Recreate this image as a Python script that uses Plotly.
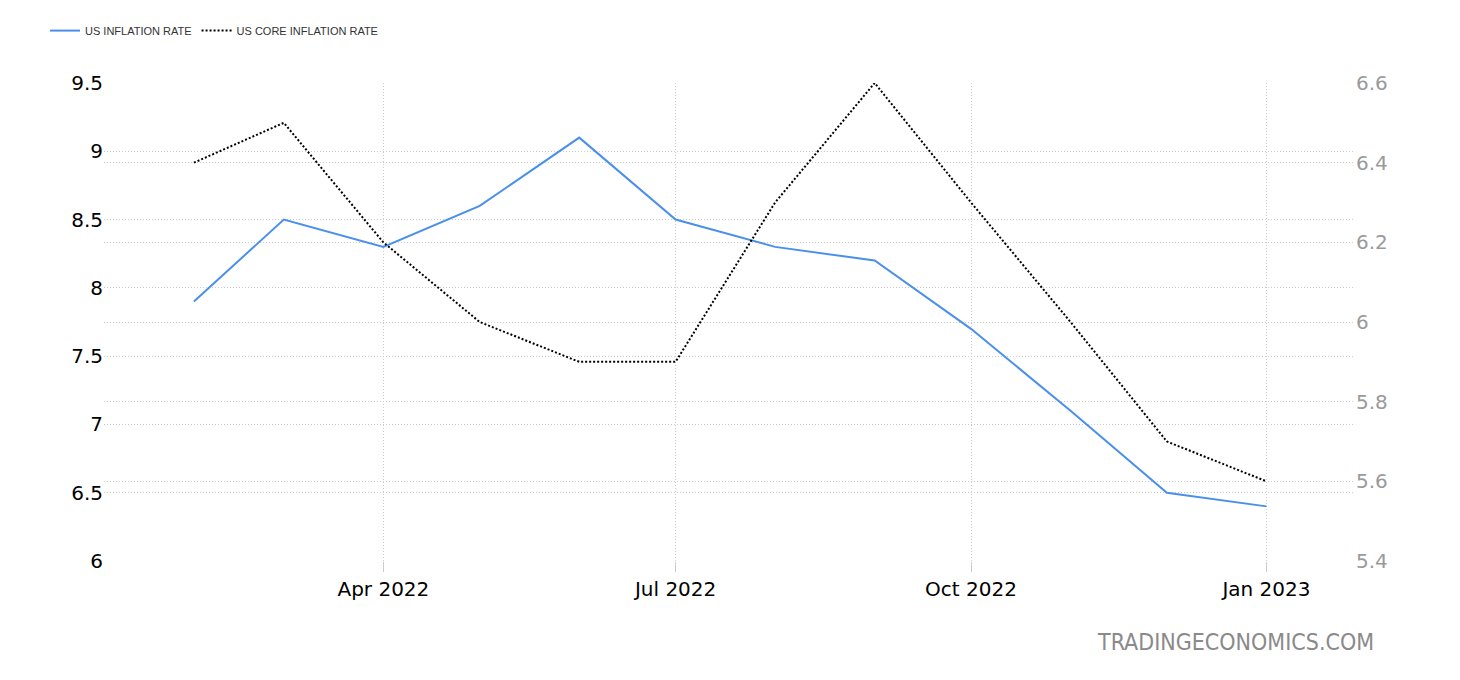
import plotly.graph_objects as go

dates = ["2022-02-01", "2022-03-01", "2022-04-01", "2022-05-01", "2022-06-01", "2022-07-01",
         "2022-08-01", "2022-09-01", "2022-10-01", "2022-11-01", "2022-12-01", "2023-01-01"]
inflation = [7.9, 8.5, 8.3, 8.6, 9.1, 8.5, 8.3, 8.2, 7.7, 7.1, 6.5, 6.4]
core_inflation = [6.4, 6.5, 6.2, 6.0, 5.9, 5.9, 6.3, 6.6, 6.3, 6.0, 5.7, 5.6]
tick_dates = ["2022-04-01", "2022-07-01", "2022-10-01", "2023-01-01"]
tick_labels = ["Apr 2022", "Jul 2022", "Oct 2022", "Jan 2023"]

fig = go.Figure()
fig.add_trace(go.Scatter(x=dates, y=inflation, name="US INFLATION RATE", mode="lines",
                         line=dict(color="#4a8fec", width=2), yaxis="y"))
fig.add_trace(go.Scatter(x=dates, y=core_inflation, name="US CORE INFLATION RATE", mode="lines",
                         line=dict(color="#000000", width=2, dash="2px,2px"), yaxis="y2"))

grid = "#cccccc"
gdash = "1px,2px"
fig.update_layout(
    width=1452, height=672,
    margin=dict(l=96, r=105, t=75, b=119, autoexpand=False),
    paper_bgcolor="white", plot_bgcolor="white",
    font=dict(family="DejaVu Sans", color="#000"),
    showlegend=True,
    legend=dict(orientation="h", xref="container", yref="container",
                x=0.0255, xanchor="left", y=0.9664, yanchor="middle",
                font=dict(family="Liberation Sans", size=11, color="#333"),
                tracegroupgap=0),
    xaxis=dict(type="date", range=["2022-01-04", "2023-01-28 14:00"],
               tickvals=tick_dates, ticktext=tick_labels,
               showgrid=True, gridcolor=grid, griddash=gdash, gridwidth=1,
               ticks="outside", ticklen=10, tickcolor="#cccccc",
               tickfont=dict(size=20, color="#000"), showline=False, zeroline=False),
    yaxis=dict(range=[6, 9.5], tickvals=[6, 6.5, 7, 7.5, 8, 8.5, 9, 9.5],
               ticktext=["6", "6.5", "7", "7.5", "8", "8.5", "9", "9.5"],
               showgrid=True, gridcolor=grid, griddash=gdash, gridwidth=1,
               tickfont=dict(size=20, color="#000"), zeroline=False, showline=False),
    yaxis2=dict(range=[5.4, 6.6], tickvals=[5.4, 5.6, 5.8, 6.0, 6.2, 6.4, 6.6],
                ticktext=["5.4", "5.6", "5.8", "6", "6.2", "6.4", "6.6"],
                overlaying="y", side="right",
                showgrid=True, gridcolor=grid, griddash=gdash, gridwidth=1,
                tickfont=dict(size=20, color="#9a9a9a"), zeroline=False, showline=False),
    annotations=[dict(text="TRADINGECONOMICS.COM", xref="paper", yref="paper",
                      x=1.0168, y=-0.1695, xanchor="right", yanchor="middle", showarrow=False,
                      font=dict(family="DejaVu Sans Condensed", size=23, color="#8a8a8a"))],
)

fig.write_html("out.html")
